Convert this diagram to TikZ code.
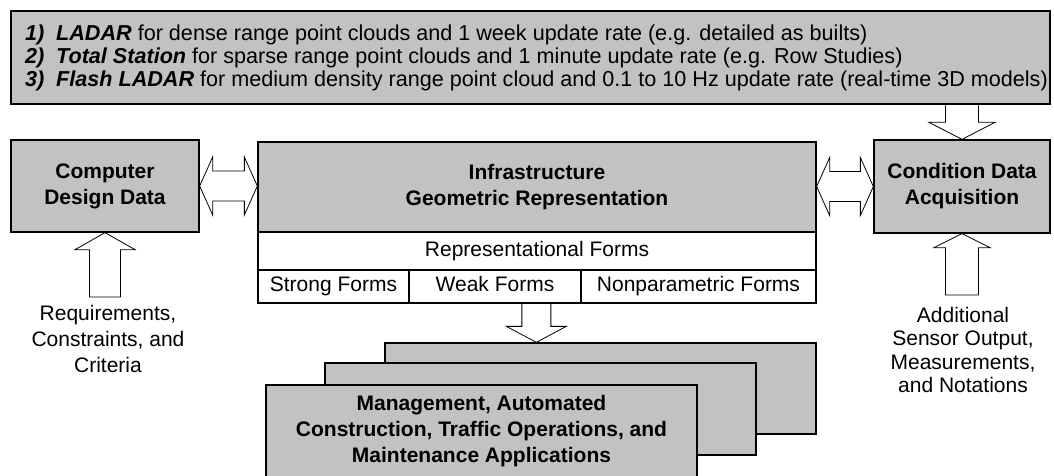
\documentclass[tikz,border=0pt]{standalone}
\usepackage{fontspec}
\setmainfont{Liberation Sans}
\usetikzlibrary{calc}
\newcommand\itmlabel[2]{\makebox[31pt][l]{\textbf{\textit{#1}}}\textbf{\textit{#2}}}
\begin{document}
\begin{tikzpicture}[x=1pt,y=-1pt,
  graybox/.style={draw=black, line width=1.3pt, fill=black!24, inner sep=0pt, align=center},
  whitebox/.style={draw=black, line width=1.1pt, fill=white, inner sep=0pt, align=center},
  cell/.style={whitebox, font=\fontsize{21}{26}\selectfont, text height=15pt, text depth=4.5pt},
  barrow/.style={draw=black, line width=0.8pt, fill=white, line join=miter},
  lbl/.style={font=\fontsize{21}{26}\selectfont, align=center},
  boldlbl/.style={font=\fontsize{21}{26}\selectfont\bfseries, align=center}]
\useasboundingbox (0,0) rectangle (1054,476);

% top box
\node[graybox, minimum width=1039pt, minimum height=93pt] (top) at (530.5,57.5) {};
\node[anchor=west, align=left, inner sep=0pt, font=\fontsize{21.6}{23}\selectfont] (toptext) at (25,57.5)
 {\itmlabel{1)}{LADAR} for dense range point clouds and 1 week update rate (e.g. detailed as builts)\\
  \itmlabel{2)}{Total Station} for sparse range point clouds and 1 minute update rate (e.g. Row Studies)\\
  \itmlabel{3)}{Flash LADAR} for medium density range point cloud and 0.1 to 10 Hz update rate (real-time 3D models)};

% main boxes
\node[graybox, boldlbl, minimum width=188pt, minimum height=92pt] (cdd) at (105,186) {Computer\\Design Data};
\node[graybox, boldlbl, minimum width=558pt, minimum height=90pt] (infra) at (537,187) {Infrastructure\\Geometric Representation};
\node[cell, minimum width=558pt, minimum height=38pt] (rep) at (537,251) {Representational Forms};
\node[cell, minimum width=151pt, minimum height=33pt] (strong) at (333.5,286.5) {Strong Forms};
\node[cell, minimum width=172pt, minimum height=33pt] (weak) at (495,286.5) {Weak Forms};
\node[cell, minimum width=235pt, minimum height=33pt] (nonpar) at (698.5,286.5) {Nonparametric Forms};
\node[graybox, boldlbl, minimum width=176pt, minimum height=93pt] (cond) at (962,186.5) {Condition Data\\Acquisition};

% stacked application boxes
\node[graybox, minimum width=431pt, minimum height=91pt] (back) at (600.5,388.5) {};
\node[graybox, minimum width=431pt, minimum height=92pt] (mid) at (540.5,409) {};
\node[graybox, boldlbl, minimum width=431pt, minimum height=92pt] (front) at (481.5,431) {Management, Automated\\Construction, Traffic Operations, and\\Maintenance Applications};

% labels
\node[lbl, font=\fontsize{21}{26}\selectfont] (req) at (108,339) {Requirements,\\Constraints, and\\Criteria};
\node[lbl, font=\fontsize{21}{23.4}\selectfont] (sens) at (963,350) {Additional\\Sensor Output,\\Measurements,\\and Notations};
\coordinate (reqtop) at (105,297);
\coordinate (senstop) at (962,295);

% down arrow: top box -> condition data acquisition
\draw[barrow] ($(cond.north |- top.south)+(-16.5,0.7)$) -- ($(cond.north)+(-16.5,-17)$) -- ($(cond.north)+(-33,-17)$)
  -- (cond.north) -- ($(cond.north)+(33,-17)$) -- ($(cond.north)+(16.5,-17)$) -- ($(cond.north |- top.south)+(16.5,0.7)$);

% double arrow cdd <-> infra
\coordinate (la) at (cdd.east);
\coordinate (lb) at (infra.west |- cdd.east);
\draw[barrow] (la) -- ++(13,-29) -- ++(0,14) -- ($(lb)+(-13,-15)$) -- ++(0,-14) -- (lb)
  -- ++(-13,29) -- ++(0,-14) -- ($(la)+(13,15)$) -- ++(0,14) -- cycle;

% double arrow infra <-> cond
\coordinate (ra) at (infra.east |- cond.west);
\coordinate (rb) at (cond.west);
\draw[barrow] (ra) -- ++(13,-29) -- ++(0,14) -- ($(rb)+(-13,-15)$) -- ++(0,-14) -- (rb)
  -- ++(-13,29) -- ++(0,-14) -- ($(ra)+(13,15)$) -- ++(0,14) -- cycle;

% up arrow requirements -> cdd
\draw[barrow] ($(reqtop)+(-15.5,0)$) -- ($(cdd.south)+(-15.5,17)$) -- ($(cdd.south)+(-30,17)$) -- (cdd.south)
  -- ($(cdd.south)+(30,17)$) -- ($(cdd.south)+(15.5,17)$) -- ($(reqtop)+(15.5,0)$) -- cycle;

% up arrow sensors -> cond
\draw[barrow] ($(senstop)+(-16.5,0)$) -- ($(cond.south)+(-16.5,14)$) -- ($(cond.south)+(-28,14)$) -- (cond.south)
  -- ($(cond.south)+(28,14)$) -- ($(cond.south)+(16.5,14)$) -- ($(senstop)+(16.5,0)$) -- cycle;

% down arrow forms -> applications
\coordinate (appin) at ($(back.north west)+(152,0)$);
\draw[barrow] ($(appin |- weak.south)+(-14.5,0.6)$) -- ($(appin)+(-14.5,-16)$) -- ($(appin)+(-30,-16)$) -- (appin)
  -- ($(appin)+(30,-16)$) -- ($(appin)+(14.5,-16)$) -- ($(appin |- weak.south)+(14.5,0.6)$);
\end{tikzpicture}
\end{document}
